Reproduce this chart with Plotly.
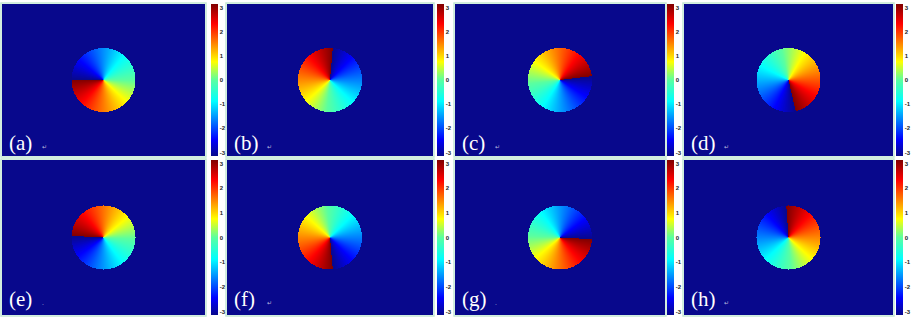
import numpy as np
import plotly.graph_objects as go

# ---- data ----
panel_labels = ["(a)", "(b)", "(c)", "(d)", "(e)", "(f)", "(g)", "(h)"]
topological_charge = [-1, -1, -1, -1, 1, 1, 1, 1]
cut_angle_deg = [180, 85, 7, -77, 177, -85, -3, 94]
label_marks = ["↵", "↵", "↵", "↵", ".", "↵", ".", "↵"]
cbar_tickvals = [-3, -2, -1, 0, 1, 2, 3]
cbar_ticktext = ["-3", "-2", "-1", "0", "1", "2", "3"]
phase_min, phase_max = -np.pi, np.pi

# ---- layout geometry (pixels) ----
W, H = 913, 317
col_img = [(2, 205), (227, 433), (455, 665), (684, 893)]
col_cb = [(211, 7), (437, 7), (667, 7), (896, 7)]
row_img = [(4, 156), (160, 315)]
RADIUS = 32

JET = [
    [0.0, "rgb(8,8,140)"],
    [0.11, "rgb(0,0,255)"],
    [0.36, "rgb(0,255,255)"],
    [0.5, "rgb(90,255,160)"],
    [0.62, "rgb(255,255,0)"],
    [0.87, "rgb(255,0,0)"],
    [1.0, "rgb(128,0,0)"],
]

fig = go.Figure()
layout = {}
shapes = []
annotations = []

for i in range(8):
    r, c = divmod(i, 4)
    x0, x1 = col_img[c]
    y0, y1 = row_img[r]
    nx, ny = int(x1 - x0), int(y1 - y0)
    xs = np.arange(nx) + 0.5 - nx / 2
    ys = np.arange(ny) + 0.5 - ny / 2
    X, Y = np.meshgrid(xs, ys)
    theta = np.arctan2(Y, X)
    alpha = np.mod(theta - np.deg2rad(cut_angle_deg[i]), 2 * np.pi)
    if topological_charge[i] > 0:
        phi = alpha - np.pi
    else:
        phi = np.pi - alpha
    rr = np.hypot(X, Y)
    z = np.where(rr <= RADIUS, phi, phase_min)
    z = np.round(z, 3)

    cbx, cbw = col_cb[c]
    sfx = "" if i == 0 else str(i + 1)
    fig.add_trace(go.Heatmap(
        z=z, x=xs, y=ys,
        xaxis="x" + sfx, yaxis="y" + sfx,
        colorscale=JET, zmin=phase_min, zmax=phase_max,
        zsmooth=False, hoverinfo="skip",
        colorbar=dict(
            x=cbx / W, xanchor="left", y=1 - y1 / H, yanchor="bottom",
            len=(y1 - y0) / H, lenmode="fraction",
            thickness=cbw, thicknessmode="pixels",
            xpad=0, ypad=0, outlinewidth=0, ticks="", ticklen=0,
            tickvals=cbar_tickvals, ticktext=cbar_ticktext,
            tickfont=dict(size=6, color="#222", family="Liberation Sans", weight="bold"),
        ),
    ))
    layout["xaxis" + sfx] = dict(domain=[x0 / W, x1 / W], range=[-nx / 2, nx / 2],
                                 visible=False, anchor="y" + sfx, fixedrange=True)
    layout["yaxis" + sfx] = dict(domain=[1 - y1 / H, 1 - y0 / H], range=[-ny / 2, ny / 2],
                                 visible=False, anchor="x" + sfx, fixedrange=True)
    shapes.append(dict(type="rect", xref="paper", yref="paper",
                       x0=(x0 - 1) / W, x1=(x1 + 1) / W, y0=1 - (y1 + 1) / H, y1=1 - (y0 - 1) / H,
                       line=dict(color="rgb(196,232,212)", width=1.5)))
    annotations.append(dict(xref="paper", yref="paper", x=(x0 + 5) / W, y=1 - (y0 + 139) / H,
                            xanchor="left", yanchor="middle", showarrow=False,
                            text=panel_labels[i],
                            font=dict(size=21, color="white", family="Liberation Serif")))
    annotations.append(dict(xref="paper", yref="paper", x=(x0 + 38) / W, y=1 - (y0 + 142) / H,
                            xanchor="left", yanchor="middle", showarrow=False,
                            text=label_marks[i],
                            font=dict(size=6, color="rgba(255,255,255,0.7)", family="DejaVu Sans")))

fig.update_layout(width=W, height=H, margin=dict(l=0, r=0, t=0, b=0, autoexpand=False),
                  paper_bgcolor="white", plot_bgcolor="white",
                  shapes=shapes, annotations=annotations, **layout)
fig.write_html("out.html", config={"displayModeBar": False},
               post_script="document.body.style.margin='0px';document.body.style.overflow='hidden';")
